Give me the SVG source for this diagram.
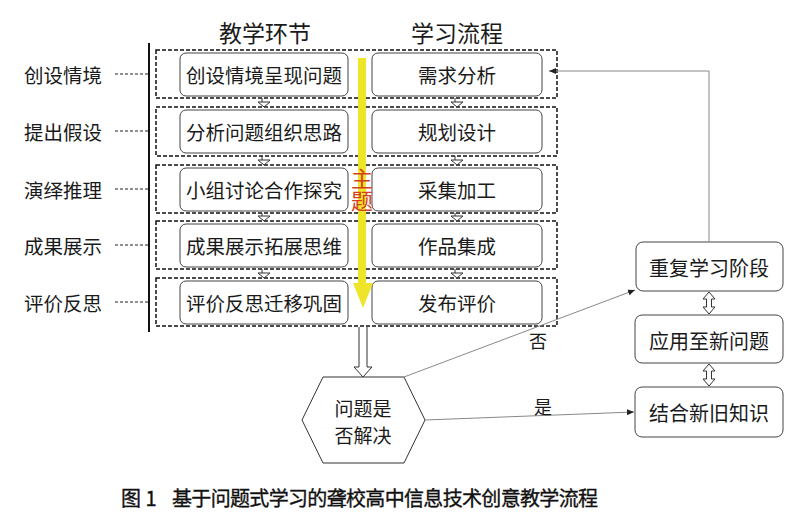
<svg xmlns="http://www.w3.org/2000/svg" width="800" height="520" viewBox="0 0 800 520">
<defs>
<style>
text{font-family:"Noto Sans CJK SC","Liberation Sans",sans-serif;fill:#1a1a1a;text-anchor:middle;dominant-baseline:central}
.row{fill:none;stroke:#111;stroke-width:1.5;stroke-dasharray:4 2}
.box{fill:#fff;stroke:#444;stroke-width:1}
.lbl{font-size:19.5px}
.side{font-size:19.5px}
.hdr{font-size:23px}
.dot{stroke:#222;stroke-width:1.2;stroke-dasharray:3 2}
.conn{fill:none;stroke:#888;stroke-width:1}
.open{fill:#fff;stroke:#333;stroke-width:1}
.theme{font-size:22px;fill:#d4401c;writing-mode:vertical-rl;text-anchor:start}
.cap{font-size:20px;text-anchor:start;fill:#111;stroke:#111;stroke-width:0.35}
</style>
<marker id="ah" markerWidth="8" markerHeight="8" refX="7" refY="4" orient="auto" markerUnits="userSpaceOnUse">
<path d="M0,1 L7,4 L0,7 z" fill="#222"/>
</marker>
</defs>
<rect width="800" height="520" fill="#fff"/>

<g id="headers">
<text class="hdr" x="265" y="32">教学环节</text>
<text class="hdr" x="457" y="32">学习流程</text>
</g>

<line x1="149" y1="43" x2="149" y2="332" stroke="#111" stroke-width="2"/>

<g id="side-labels">
<text class="side" x="63" y="74">创设情境</text>
<text class="side" x="63" y="131">提出假设</text>
<text class="side" x="63" y="189">演绎推理</text>
<text class="side" x="63" y="245">成果展示</text>
<text class="side" x="63" y="302">评价反思</text>
<line class="dot" x1="115" y1="74" x2="148" y2="74"/>
<line class="dot" x1="115" y1="131" x2="148" y2="131"/>
<line class="dot" x1="115" y1="189" x2="148" y2="189"/>
<line class="dot" x1="115" y1="245" x2="148" y2="245"/>
<line class="dot" x1="115" y1="302" x2="148" y2="302"/>
</g>

<g id="row1">
<rect class="row" x="156" y="50" width="401" height="48"/>
<rect class="box" x="180" y="53" width="168" height="43" rx="6"/>
<text class="lbl" x="264" y="74">创设情境呈现问题</text>
<rect class="box" x="372" y="53" width="170" height="43" rx="6"/>
<text class="lbl" x="457" y="74">需求分析</text>
</g>
<g id="row2">
<rect class="row" x="156" y="107" width="401" height="49"/>
<rect class="box" x="180" y="110" width="168" height="43" rx="6"/>
<text class="lbl" x="264" y="131">分析问题组织思路</text>
<rect class="box" x="372" y="110" width="170" height="43" rx="6"/>
<text class="lbl" x="457" y="131">规划设计</text>
</g>
<g id="row3">
<rect class="row" x="156" y="165" width="401" height="48"/>
<rect class="box" x="180" y="168" width="168" height="43" rx="6"/>
<text class="lbl" x="264" y="189">小组讨论合作探究</text>
<rect class="box" x="372" y="168" width="170" height="43" rx="6"/>
<text class="lbl" x="457" y="189">采集加工</text>
</g>
<g id="row4">
<rect class="row" x="156" y="221" width="401" height="48"/>
<rect class="box" x="180" y="224" width="168" height="43" rx="6"/>
<text class="lbl" x="264" y="245">成果展示拓展思维</text>
<rect class="box" x="372" y="224" width="170" height="43" rx="6"/>
<text class="lbl" x="457" y="245">作品集成</text>
</g>
<g id="row5">
<rect class="row" x="156" y="278" width="401" height="48"/>
<rect class="box" x="180" y="281" width="168" height="43" rx="6"/>
<text class="lbl" x="264" y="302">评价反思迁移巩固</text>
<rect class="box" x="372" y="281" width="170" height="43" rx="6"/>
<text class="lbl" x="457" y="302">发布评价</text>
</g>

<g id="theme-arrow">
<rect x="358" y="58" width="8" height="226" fill="#eee42a"/>
<polygon points="353,283 373,283 363,308" fill="#eee42a"/>
<text class="theme" x="362" y="168">主题</text>
</g>

<g id="decision">
<polygon points="302,420 323,377 404,377 425,420 404,463 323,463" fill="#fff" stroke="#333" stroke-width="1"/>
<text x="363" y="407" style="font-size:19px">问题是</text>
<text x="363" y="434" style="font-size:19px">否解决</text>
</g>

<g id="repeat">
<rect class="box" x="636" y="242" width="147" height="49" rx="7"/>
<text x="709" y="267" style="font-size:20px">重复学习阶段</text>
</g>
<g id="apply">
<rect class="box" x="635" y="315" width="148" height="48" rx="7"/>
<text x="709" y="340" style="font-size:20px">应用至新问题</text>
</g>
<g id="combine">
<rect class="box" x="635" y="387" width="148" height="50" rx="7"/>
<text x="709" y="412" style="font-size:20px">结合新旧知识</text>
</g>

<g id="connectors">
<path class="open" d="M262,98 V102 M258,102 H270 L264,107 Z" />
<path class="open" d="M455,98 V102 M451,102 H463 L457,107 Z" />
<path class="open" d="M262,156 V160 M258,160 H270 L264,165 Z" />
<path class="open" d="M455,156 V160 M451,160 H463 L457,165 Z" />
<path class="open" d="M262,213 V216 M258,216 H270 L264,221 Z" />
<path class="open" d="M455,213 V216 M451,216 H463 L457,221 Z" />
<path class="open" d="M262,269 V273 M258,273 H270 L264,278 Z" />
<path class="open" d="M455,269 V273 M451,273 H463 L457,278 Z" />
<path class="open" d="M359,327 V367 H354 L363,377 L372,367 H367 V327"/>
<path class="open" d="M709,292 L715,299 H711.5 V307 H715 L709,314 L703,307 H706.5 V299 H703 Z"/>
<path class="open" d="M709,364 L715,371 H711.5 V379 H715 L709,386 L703,379 H706.5 V371 H703 Z"/>
<path class="conn" d="M709,242 V71 H549" marker-end="url(#ah)"/>
<line class="conn" x1="404" y1="377" x2="635" y2="290" marker-end="url(#ah)"/>
<line class="conn" x1="425" y1="420" x2="634" y2="412" marker-end="url(#ah)"/>
<text x="538" y="340" style="font-size:18px">否</text>
<text x="543" y="406" style="font-size:18px">是</text>
</g>

<g id="caption">
<text class="cap" x="121" y="497">图 1</text>
<text class="cap" x="172" y="497" textLength="426">基于问题式学习的聋校高中信息技术创意教学流程</text>
</g>
</svg>
